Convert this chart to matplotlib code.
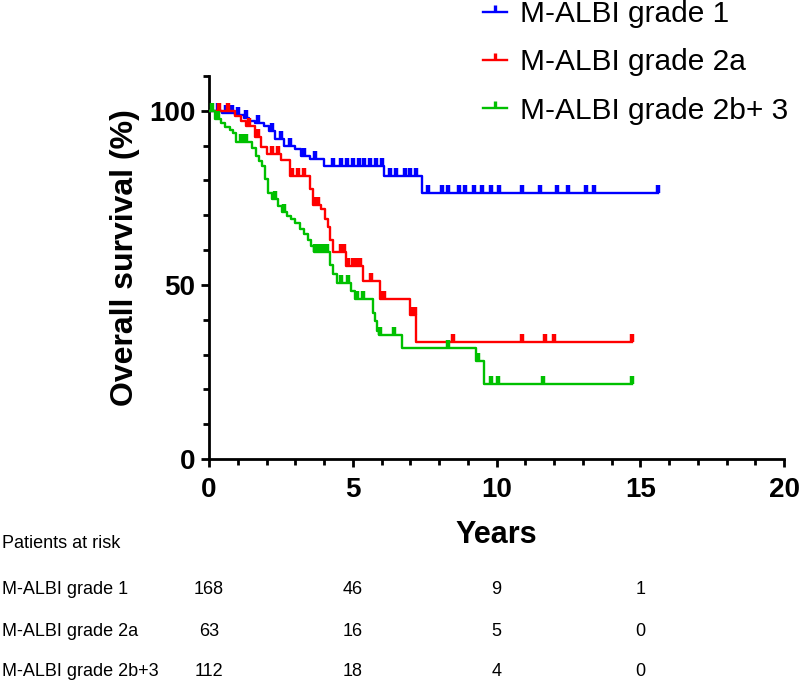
import matplotlib.pyplot as plt
import numpy as np
from matplotlib.lines import Line2D
from matplotlib.transforms import blended_transform_factory

plt.rcParams['font.family'] = ['Liberation Sans', 'DejaVu Sans']

# Kaplan-Meier steps (years, survival %)
grade1_t = [0, 0.45, 0.9, 1.2, 1.4, 1.6, 1.9, 2.1, 2.3, 2.6, 3.0, 3.2, 3.5, 4.0, 6.1, 7.4]
grade1_s = [100, 99.4, 98.8, 98.0, 97.1, 96.5, 95.7, 94.2, 91.8, 89.9, 89.0, 87.0, 86.1, 84.2, 81.3, 76.5]
grade1_end = 15.6
grade1_cens = [0.3, 0.6, 0.8, 1.0, 1.3, 1.7, 2.2, 2.5, 2.8, 3.3, 3.7, 4.3, 4.6, 4.8, 5.0, 5.2,
               5.4, 5.6, 5.8, 6.0, 6.3, 6.5, 6.8, 7.0, 7.2, 7.6, 8.1, 8.3, 8.7, 8.9, 9.2, 9.5,
               9.8, 10.1, 10.9, 11.5, 12.1, 12.5, 13.1, 13.4, 15.6]

grade2a_t = [0, 0.9, 1.1, 1.3, 1.6, 1.8, 2.0, 2.5, 2.8, 3.5, 3.6, 3.9, 4.05, 4.15, 4.22, 4.3,
             4.75, 5.35, 5.95, 7.0, 7.2]
grade2a_s = [100, 98.5, 97.0, 95.5, 92.5, 89.5, 87.5, 86.0, 81.3, 77.5, 73.0, 71.7, 69.0, 66.5,
             63.0, 59.3, 55.4, 51.1, 46.0, 41.4, 33.5]
grade2a_end = 14.7
grade2a_cens = [0.35, 0.65, 1.4, 1.7, 2.2, 2.4, 2.9, 3.1, 3.3, 3.7, 3.8, 4.6, 4.7, 4.85, 5.0,
                5.1, 5.25, 5.65, 6.0, 6.1, 7.05, 7.15, 8.5, 10.9, 11.7, 12.0, 14.7]

grade2b3_t = [0, 0.2, 0.4, 0.55, 0.72, 0.85, 0.95, 1.5, 1.65, 1.75, 1.85, 1.95, 2.05, 2.2, 2.4,
              2.55, 2.7, 2.85, 3.0, 3.15, 3.3, 3.45, 3.55, 3.65, 4.2, 4.3, 4.45, 4.95, 5.08,
              5.7, 5.77, 5.83, 5.9, 6.7, 9.3, 9.55]
grade2b3_s = [100, 97.6, 96.5, 95.4, 94.5, 93.5, 90.9, 89.4, 87.0, 85.5, 84.2, 80.3, 76.5, 74.6,
              72.6, 71.0, 69.8, 68.8, 67.9, 66.0, 64.5, 63.0, 61.2, 59.3, 55.8, 53.0, 50.6, 48.2,
              45.8, 42.0, 39.5, 36.7, 35.7, 31.9, 28.0, 21.4]
grade2b3_end = 14.7
grade2b3_cens = [0.1, 0.3, 1.1, 1.2, 1.3, 2.3, 2.6, 3.7, 3.8, 3.9, 4.0, 4.1, 4.6, 4.85, 5.15,
                 5.35, 5.95, 6.45, 8.3, 9.37, 9.8, 10.05, 11.6, 14.7]

labels = ['M-ALBI grade 1', 'M-ALBI grade 2a', 'M-ALBI grade 2b+ 3']
table_labels = ['M-ALBI grade 1', 'M-ALBI grade 2a', 'M-ALBI grade 2b+3']
colors = ['#0000ff', '#ff0000', '#00c000']
risk_times = [0, 5, 10, 15]
risk_grade1 = [168, 46, 9, 1]
risk_grade2a = [63, 16, 5, 0]
risk_grade2b3 = [112, 18, 4, 0]

fig = plt.figure(figsize=(8, 6.83), dpi=100)
ax = fig.add_axes([0.2613, 0.328, 0.7188, 0.5608])

curves = [(grade1_t, grade1_s, grade1_end, grade1_cens),
          (grade2a_t, grade2a_s, grade2a_end, grade2a_cens),
          (grade2b3_t, grade2b3_s, grade2b3_end, grade2b3_cens)]

for (t, s, end, cens), col in zip(curves, colors):
    t = np.array(t)
    s = np.array(s)
    ax.step(np.append(t, end), np.append(s, s[-1]), where='post', color=col, lw=1.7, zorder=3)
    cens = np.array(cens)
    idx = np.searchsorted(t, cens, side='right') - 1
    ax.plot(cens, s[idx], ls='none', marker=2, ms=5.5, mew=3.2, color=col, zorder=3)

ax.set_xlim(0, 20)
ax.set_ylim(0, 110)
ax.set_xticks([0, 5, 10, 15, 20])
ax.set_xticks(np.arange(0, 21, 1), minor=True)
ax.set_yticks([0, 50, 100])
ax.set_yticks(np.arange(0, 111, 10), minor=True)

for side in ['top', 'right']:
    ax.spines[side].set_visible(False)
for side in ['left', 'bottom']:
    ax.spines[side].set_linewidth(2)
ax.tick_params(which='major', length=6, width=2, labelsize=20, pad=4)
ax.tick_params(axis='x', which='major', pad=7)
ax.tick_params(which='minor', length=4, width=2)
for lab in ax.get_xticklabels() + ax.get_yticklabels():
    lab.set_fontweight('bold')

ax.set_xlabel('Years', fontsize=22, fontweight='bold')
ax.xaxis.set_label_coords(0.5, -0.16)
ax.set_ylabel('Overall survival (%)', fontsize=23, fontweight='bold')
ax.yaxis.set_label_coords(-0.12, 0.525)

handles = [Line2D([], [], color=c, lw=1.7, marker=2, ms=5, mew=2.4) for c in colors]
fig.legend(handles, labels, loc='upper left', bbox_to_anchor=(483 / 800, 1.0),
           frameon=False, fontsize=21.5, numpoints=1, handlelength=0.8,
           handletextpad=0.45, labelspacing=0.68, borderpad=0, borderaxespad=0)

# patients at risk table
fig.text(2 / 800, 1 - 544 / 683, 'Patients at risk', fontsize=13, va='center')
trans = blended_transform_factory(ax.transData, fig.transFigure)
row_y = [590, 632, 672]
for lab, counts, py in zip(table_labels, [risk_grade1, risk_grade2a, risk_grade2b3], row_y):
    fig.text(2 / 800, 1 - py / 683, lab, fontsize=13, va='center')
    for xt, n in zip(risk_times, counts):
        ax.text(xt, 1 - py / 683, str(n), transform=trans, fontsize=13, ha='center', va='center')

fig.savefig('out.png', dpi=100)
